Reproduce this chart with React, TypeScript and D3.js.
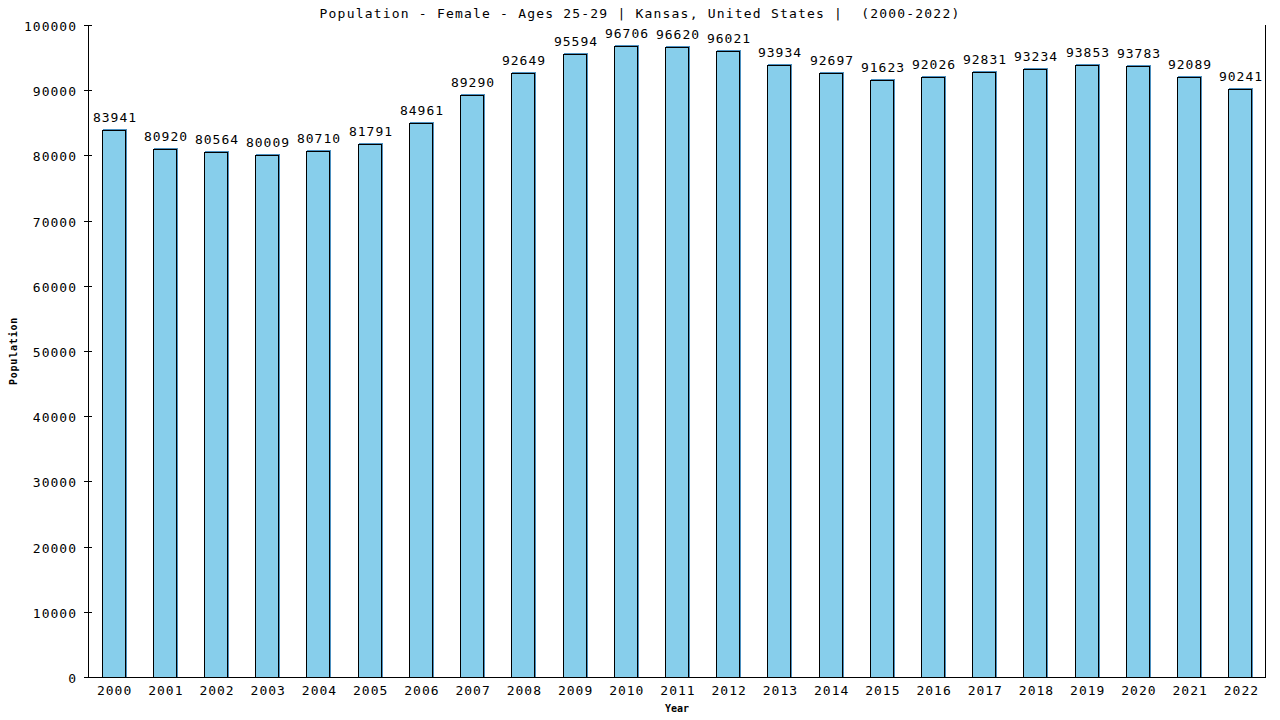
import { useEffect, useRef } from "react";
import * as d3 from "d3";

const YEARS = [
  "2000", "2001", "2002", "2003", "2004", "2005", "2006", "2007", "2008", "2009", "2010", "2011",
  "2012", "2013", "2014", "2015", "2016", "2017", "2018", "2019", "2020", "2021", "2022",
];

const POPULATION = [
  83941, 80920, 80564, 80009, 80710, 81791, 84961, 89290, 92649, 95594, 96706, 96620,
  96021, 93934, 92697, 91623, 92026, 92831, 93234, 93853, 93783, 92089, 90241,
];

const Y_TICKS = [0, 10000, 20000, 30000, 40000, 50000, 60000, 70000, 80000, 90000, 100000];

const TITLE = "Population - Female - Ages 25-29 | Kansas, United States |  (2000-2022)";

const FONT = "'DejaVu Sans Mono', monospace";

export default function App() {
  const svgRef = useRef<SVGSVGElement>(null);

  useEffect(() => {
    if (!svgRef.current) return;
    const width = 1280;
    const height = 720;
    const margin = { top: 25, right: 14, bottom: 43, left: 88 };
    const innerW = width - margin.left - margin.right;
    const innerH = height - margin.top - margin.bottom;

    const svg = d3.select(svgRef.current);
    svg.selectAll("*").remove();

    svg.append("rect").attr("width", width).attr("height", height).attr("fill", "#fff");

    const g = svg.append("g").attr("transform", `translate(${margin.left},${margin.top})`);

    const x = d3.scaleBand().domain(YEARS).range([0, innerW]).paddingInner(0.53).paddingOuter(0.265);
    const y = d3.scaleLinear().domain([0, 100000]).range([innerH, 0]);

    // Bars: shadow then outlined body
    YEARS.forEach((yr, i) => {
      const bx = Math.round(x(yr)!);
      const by = Math.round(y(POPULATION[i]));
      const bw = Math.round(x.bandwidth());
      g.append("rect")
        .attr("x", bx + 1)
        .attr("y", by - 1)
        .attr("width", bw)
        .attr("height", innerH - by + 1)
        .attr("fill", "#4c90c0");
      g.append("rect")
        .attr("x", bx + 0.5)
        .attr("y", by + 0.5)
        .attr("width", bw - 1)
        .attr("height", innerH - by)
        .attr("fill", "#87ceeb")
        .attr("stroke", "#000")
        .attr("stroke-width", 1);
      g.append("text")
        .attr("x", bx + bw / 2 + 1)
        .attr("y", by - 8)
        .attr("text-anchor", "middle")
        .attr("font-family", FONT)
        .attr("font-size", 13)
        .attr("letter-spacing", 1)
        .attr("fill", "#000")
        .text(String(POPULATION[i]));
    });

    // Y axis
    g.append("line")
      .attr("x1", 0.5).attr("x2", 0.5)
      .attr("y1", 0).attr("y2", innerH)
      .attr("stroke", "#000");
    Y_TICKS.forEach((t) => {
      const ty = Math.round(y(t)) + 0.5;
      g.append("line")
        .attr("x1", -4).attr("x2", 4)
        .attr("y1", ty).attr("y2", ty)
        .attr("stroke", "#000");
      g.append("text")
        .attr("x", -11)
        .attr("y", ty + 5)
        .attr("text-anchor", "end")
        .attr("font-family", FONT)
        .attr("font-size", 13)
        .attr("letter-spacing", 1)
        .attr("fill", "#000")
        .text(String(t));
    });

    // X axis + right border line
    g.append("line")
      .attr("x1", 0).attr("x2", innerW)
      .attr("y1", innerH + 0.5).attr("y2", innerH + 0.5)
      .attr("stroke", "#000");
    g.append("line")
      .attr("x1", innerW - 0.5).attr("x2", innerW - 0.5)
      .attr("y1", 0).attr("y2", innerH)
      .attr("stroke", "#000");
    YEARS.forEach((yr) => {
      g.append("text")
        .attr("x", x(yr)! + x.bandwidth() / 2 + 1)
        .attr("y", innerH + 18)
        .attr("text-anchor", "middle")
        .attr("font-family", FONT)
        .attr("font-size", 13)
        .attr("letter-spacing", 1)
        .attr("fill", "#000")
        .text(yr);
    });

    // Titles
    svg.append("text")
      .attr("x", 640)
      .attr("y", 18)
      .attr("text-anchor", "middle")
      .attr("font-family", FONT)
      .attr("font-size", 13)
      .attr("letter-spacing", 1.2)
      .attr("fill", "#000")
      .style("white-space", "pre")
      .text(TITLE);

    svg.append("text")
      .attr("x", margin.left + innerW / 2)
      .attr("y", 712)
      .attr("text-anchor", "middle")
      .attr("font-family", FONT)
      .attr("font-size", 10)
      .attr("font-weight", "bold")
      .attr("fill", "#000")
      .text("Year");

    svg.append("text")
      .attr("transform", `translate(17,${margin.top + innerH / 2}) rotate(-90)`)
      .attr("text-anchor", "middle")
      .attr("font-family", FONT)
      .attr("font-size", 10)
      .attr("font-weight", "bold")
      .attr("letter-spacing", 0.8)
      .attr("fill", "#000")
      .text("Population");
  }, []);

  return (
    <svg
      ref={svgRef}
      width={1280}
      height={720}
      style={{ position: "absolute", left: 0, top: 0, display: "block" }}
    />
  );
}
